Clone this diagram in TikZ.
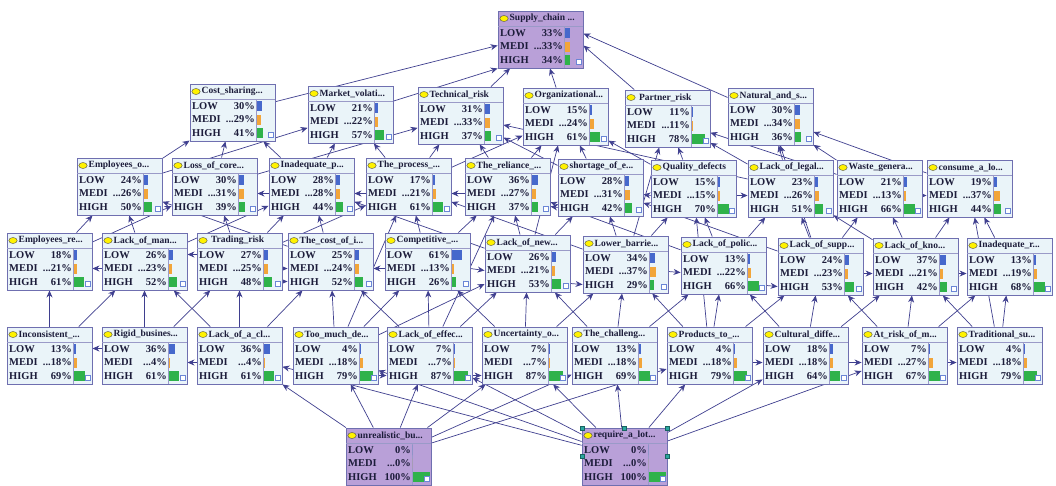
\documentclass[tikz,border=0pt]{standalone}
\usepackage{fontspec}
\setmainfont{Liberation Serif}
\usepackage{xcolor}
\usepackage{tikz}
\usetikzlibrary{arrows.meta,backgrounds}
\definecolor{bnFill}{HTML}{EAF4F9}
\definecolor{bnPurple}{HTML}{B9A0D8}
\definecolor{bnBorder}{HTML}{6F6FB0}
\definecolor{bnEdge}{HTML}{3F3F8F}
\definecolor{bnBlue}{HTML}{4668CC}
\definecolor{bnOrange}{HTML}{F2A53A}
\definecolor{bnGreen}{HTML}{2FB24A}
\definecolor{bnText}{HTML}{1C1C3A}
\definecolor{bnHandle}{HTML}{2AA7A0}
% name, x, y, title, low, medi, high, fill
\newcommand{\bnode}[8]{%
  \begin{scope}[shift={(#2,#3)}]
    \node[bbox, fill=#8] (#1) at (42.5,28.5) {};
    \draw[bsep] (0,15) -- (85,15);
    \draw[bsep] (66,15) -- (66,57);
    \filldraw[fill=yellow, draw=black!70, line width=0.4pt]
      (6,7.5) ellipse [x radius=4.2pt, y radius=3pt];
    \node[btitle] (#1-t) at (11.5,7.5) {#4};
    \node[blabel] (#1-l) at (2,22)   {LOW};
    \node[blabel] (#1-m) at (2,35.5) {MEDI};
    \node[blabel] (#1-h) at (2,49)   {HIGH};
    \node[bpct] (#1-pl) at (65,22)   {#5\%};
    \node[bpct] (#1-pm) at (65,35.5) {...#6\%};
    \node[bpct] (#1-ph) at (65,49)   {#7\%};
    \fill[bnBlue]   (66.5,17)   rectangle ({66.5+0.17*#5},27);
    \fill[bnOrange] (66.5,30.5) rectangle ({66.5+0.17*#6},40.5);
    \fill[bnGreen]  (66.5,44)   rectangle ({66.5+0.17*#7},54);
    \draw[draw=bnBlue!80, fill=white, line width=0.5pt] (78.5,48.5) rectangle (83.5,53.5);
  \end{scope}}

\begin{document}
\begin{tikzpicture}[x=1pt, y=-1pt,
    bbox/.style={draw=bnBorder, line width=0.9pt, rectangle, inner sep=0pt,
                 minimum width=85pt, minimum height=57pt},
    bsep/.style={draw=bnBorder!70, line width=0.5pt},
    btitle/.style={anchor=west, inner sep=0pt, text=bnText,
                   font=\fontsize{9.5}{10}\selectfont\bfseries},
    blabel/.style={anchor=west, inner sep=0pt, text=bnText,
                   font=\fontsize{10.5}{11}\selectfont\bfseries},
    bpct/.style={anchor=east, inner sep=0pt, text=bnText,
                 font=\fontsize{10.5}{11}\selectfont\bfseries},
    link/.style={draw=bnEdge, line width=0.7pt, -{Stealth[length=7pt,width=6pt]}},
  ]

  \begin{pgfonlayer}{background}
    \fill[white] (0,0) rectangle (1056,485);
  \end{pgfonlayer}
  \useasboundingbox (0,0) rectangle (1056,485);

  % --- top node ---
  \bnode{sc}{498}{11}{Supply\_chain ...}{33}{33}{34}{bnPurple}

  % --- row 1 ---
  \bnode{cost}{190}{84}{Cost\_sharing...}{30}{29}{41}{bnFill}
  \bnode{market}{308}{86}{Market\_volati...}{21}{22}{57}{bnFill}
  \bnode{tech}{418}{87}{Technical\_risk}{31}{33}{37}{bnFill}
  \bnode{org}{523}{88}{Organizational...}{15}{24}{61}{bnFill}
  \bnode{partner}{625}{90}{\ Partner\_risk}{11}{11}{78}{bnFill}
  \bnode{natural}{728}{88}{Natural\_and\_s...}{30}{34}{36}{bnFill}

  % --- row 2 ---
  \bnode{empO}{77}{158}{Employees\_o...}{24}{26}{50}{bnFill}
  \bnode{lossCore}{172}{158}{Loss\_of\_core...}{30}{31}{39}{bnFill}
  \bnode{inadP}{269}{158}{Inadequate\_p...}{28}{28}{44}{bnFill}
  \bnode{process}{366}{158}{The\_process\_...}{17}{21}{61}{bnFill}
  \bnode{reliance}{465}{158}{The\_reliance\_...}{36}{27}{37}{bnFill}
  \bnode{shortage}{558}{159}{shortage\_of\_e...}{28}{31}{42}{bnFill}
  \bnode{quality}{651}{160}{Quality\_defects}{15}{15}{70}{bnFill}
  \bnode{legal}{748}{160}{Lack\_of\_legal...}{23}{26}{51}{bnFill}
  \bnode{waste}{837}{160}{Waste\_genera...}{21}{13}{66}{bnFill}
  \bnode{consume}{927}{160}{consume\_a\_lo...}{19}{37}{44}{bnFill}

  % --- row 3 ---
  \bnode{empR}{7}{233}{Employees\_re...}{18}{21}{61}{bnFill}
  \bnode{lackMan}{102}{233}{Lack\_of\_man...}{26}{23}{52}{bnFill}
  \bnode{trading}{197}{233}{\ Trading\_risk}{27}{25}{48}{bnFill}
  \bnode{costI}{288}{233}{The\_cost\_of\_i...}{25}{24}{52}{bnFill}
  \bnode{compet}{385}{233}{Competitive\_...}{61}{13}{26}{bnFill}
  \bnode{lackNew}{485}{235}{Lack\_of\_new...}{26}{21}{53}{bnFill}
  \bnode{lowerB}{583}{236}{Lower\_barrie...}{34}{37}{29}{bnFill}
  \bnode{lackPol}{681}{237}{Lack\_of\_polic...}{13}{22}{66}{bnFill}
  \bnode{lackSupp}{778}{238}{Lack\_of\_supp...}{24}{23}{53}{bnFill}
  \bnode{lackKno}{873}{238}{Lack\_of\_kno...}{37}{21}{42}{bnFill}
  \bnode{inadR}{967}{238}{Inadequate\_r...}{13}{19}{68}{bnFill}

  % --- row 4 ---
  \bnode{incons}{7}{327}{Inconsistent\_...}{13}{18}{69}{bnFill}
  \bnode{rigid}{102}{327}{Rigid\_busines...}{36}{4}{61}{bnFill}
  \bnode{lackCl}{197}{327}{Lack\_of\_a\_cl...}{36}{4}{61}{bnFill}
  \bnode{tooMuch}{293}{327}{Too\_much\_de...}{4}{18}{79}{bnFill}
  \bnode{lackEff}{387}{327}{Lack\_of\_effec...}{7}{7}{87}{bnFill}
  \bnode{uncert}{482}{327}{Uncertainty\_o...}{7}{7}{87}{bnFill}
  \bnode{challeng}{572}{327}{The\_challeng...}{13}{18}{69}{bnFill}
  \bnode{products}{667}{327}{Products\_to\_...}{4}{18}{79}{bnFill}
  \bnode{cultural}{763}{327}{Cultural\_diffe...}{18}{18}{64}{bnFill}
  \bnode{atRisk}{862}{327}{At\_risk\_of\_m...}{7}{27}{67}{bnFill}
  \bnode{tradSu}{957}{327}{Traditional\_su...}{4}{18}{79}{bnFill}

  % --- bottom nodes ---
  \bnode{unreal}{346}{428}{unrealistic\_bu...}{0}{0}{100}{bnPurple}
  \bnode{require}{582}{428}{require\_a\_lot...}{0}{0}{100}{bnPurple}

  % selection handles
  \foreach \hx/\hy in {582/428, 624.5/428, 667/428, 582/456.5, 667/456.5}
    \filldraw[fill=bnHandle, draw=bnHandle!60!black, line width=0.3pt]
      (\hx-2,\hy-2) rectangle (\hx+2,\hy+2);

  \begin{pgfonlayer}{background}
  % --- into top node ---
  \draw[link] (cost) -- ([yshift=-6pt]sc.west);
  \draw[link] (market) -- (sc.south west);
  \draw[link] (tech) -- (sc);
  \draw[link] (org) -- (sc);
  \draw[link] (partner) -- ([yshift=-6pt]sc.east);
  \draw[link] (natural) -- ([yshift=6pt]sc.east);

  % --- row 2 to row 1 ---
  \draw[link] (empO) -- (cost);
  \draw[link] (empO) -- (market);
  \draw[link] (lossCore) -- (cost);
  \draw[link] (lossCore) -- (tech);
  \draw[link] (inadP) -- (market);
  \draw[link] (inadP) -- (cost);
  \draw[link] (process) -- (tech);
  \draw[link] (process) -- (market);
  \draw[link] (process) -- (org);
  \draw[link] (reliance) -- (tech);
  \draw[link] (reliance) -- (org);
  \draw[link] (shortage) -- (tech);
  \draw[link] (shortage) -- (org);
  \draw[link] (quality) -- (partner);
  \draw[link] (quality) -- (org);
  \draw[link] (legal) -- (partner);
  \draw[link] (legal) -- (natural);
  \draw[link] (legal) -- (tech);
  \draw[link] (waste) -- (natural);
  \draw[link] (waste) -- (partner);
  \draw[link] (consume) -- (natural);

  % --- row 2 side links ---
  \draw[link] ([yshift=-7pt]inadP.west) -- ([yshift=-7pt]lossCore.east);
  \draw[link] ([yshift=-7pt]process.west) -- ([yshift=-7pt]inadP.east);
  \draw[link] ([yshift=-7pt]reliance.west) -- ([yshift=-7pt]process.east);
  \draw[link] ([yshift=-20pt]shortage.west) -- ([yshift=-20pt]reliance.east);
  \draw[link] ([yshift=-7pt]quality.west) -- ([yshift=-7pt]shortage.east);
  \draw[link] ([yshift=-7pt]quality.east) -- ([yshift=-7pt]legal.west);
  \draw[link] ([yshift=-7pt]waste.east) -- ([yshift=-7pt]consume.west);

  % --- row 3 to row 2 ---
  \draw[link] (empR) -- (empO);
  \draw[link] (empR) -- (lossCore);
  \draw[link] (lackMan) -- (empO);
  \draw[link] (lackMan) -- (inadP);
  \draw[link] (trading) -- (lossCore);
  \draw[link] (trading) -- (process);
  \draw[link] (trading) -- (inadP);
  \draw[link] (costI) -- (inadP);
  \draw[link] (costI) -- (empO);
  \draw[link] (compet) -- (process);
  \draw[link] (compet) -- (reliance);
  \draw[link] (lackNew) -- (reliance);
  \draw[link] (lackNew) -- (shortage);
  \draw[link] (lackNew) -- (inadP);
  \draw[link] (lowerB) -- (shortage);
  \draw[link] (lowerB) -- (quality);
  \draw[link] (lowerB) -- (process);
  \draw[link] (lackPol) -- (quality);
  \draw[link] (lackPol) -- (legal);
  \draw[link] (lackPol) -- (reliance);
  \draw[link] (lackSupp) -- (legal);
  \draw[link] (lackSupp) -- (waste);
  \draw[link] (lackSupp) -- (shortage);
  \draw[link] (lackKno) -- (waste);
  \draw[link] (lackKno) -- (consume);
  \draw[link] (lackKno) -- (legal);
  \draw[link] (inadR) -- (consume);
  \draw[link] (lackNew) -- (org);
  \draw[link] (lowerB) -- (partner);
  \draw[link] (lackSupp) -- (natural);

  % --- row 3 side links ---
  \draw[link] ([yshift=-7pt]lackMan.west) -- ([yshift=-7pt]empR.east);
  \draw[link] ([yshift=7pt]trading.west) -- ([yshift=7pt]lackMan.east);
  \draw[link] ([yshift=-7pt]trading.east) -- ([yshift=-7pt]costI.west);
  \draw[link] ([yshift=-20pt]trading.east) -- ([yshift=-20pt]costI.west);
  \draw[link] ([yshift=-7pt]compet.west) -- ([yshift=-7pt]costI.east);
  \draw[link] ([yshift=-7pt]compet.east) -- ([yshift=-7pt]lackNew.west);
  \draw[link] ([yshift=-20pt]lackNew.east) -- ([yshift=-20pt]lowerB.west);
  \draw[link] ([yshift=-7pt]lowerB.east) -- ([yshift=-7pt]lackPol.west);
  \draw[link] ([yshift=-20pt]lackPol.east) -- ([yshift=-20pt]lackSupp.west);
  \draw[link] ([yshift=-7pt]lackSupp.east) -- ([yshift=-7pt]lackKno.west);
  \draw[link] ([yshift=-7pt]lackKno.east) -- ([yshift=-7pt]inadR.west);

  % --- row 4 to row 3 ---
  \draw[link] (incons) -- (empR);
  \draw[link] (incons) -- (lackMan);
  \draw[link] (rigid) -- (lackMan);
  \draw[link] (rigid) -- (trading);
  \draw[link] (lackCl) -- (trading);
  \draw[link] (lackCl) -- (costI);
  \draw[link] (lackCl) -- (lackMan);
  \draw[link] (tooMuch) -- (costI);
  \draw[link] (tooMuch) -- (compet);
  \draw[link] (tooMuch) -- (lackNew);
  \draw[link] (lackEff) -- (compet);
  \draw[link] (lackEff) -- (lackNew);
  \draw[link] (lackEff) -- (costI);
  \draw[link] (uncert) -- (lackNew);
  \draw[link] (uncert) -- (lowerB);
  \draw[link] (uncert) -- (compet);
  \draw[link] (challeng) -- (lowerB);
  \draw[link] (challeng) -- (lackPol);
  \draw[link] (challeng) -- (lackNew);
  \draw[link] (products) -- (lackPol);
  \draw[link] (products) -- (lackSupp);
  \draw[link] (products) -- (lowerB);
  \draw[link] (cultural) -- (lackSupp);
  \draw[link] (cultural) -- (lackKno);
  \draw[link] (cultural) -- (lackPol);
  \draw[link] (atRisk) -- (lackKno);
  \draw[link] (atRisk) -- (inadR);
  \draw[link] (atRisk) -- (lackSupp);
  \draw[link] (tradSu) -- (inadR);
  \draw[link] (tradSu) -- (lackKno);
  \draw[link] (products) -- (quality);
  \draw[link] (lackEff) -- (reliance);
  \draw[link] (tooMuch) -- (process);
  \draw[link] (tradSu) -- (consume);

  % --- row 4 side links ---
  \draw[link] ([yshift=7pt]rigid.west) -- ([yshift=7pt]incons.east);
  \draw[link] ([yshift=-7pt]lackCl.west) -- ([yshift=-7pt]rigid.east);
  \draw[link] ([yshift=-20pt]tooMuch.east) -- ([yshift=-20pt]lackEff.west);
  \draw[link] ([yshift=-20pt]lackEff.east) -- ([yshift=-20pt]uncert.west);
  \draw[link] ([yshift=-7pt]products.east) -- ([yshift=-7pt]cultural.west);
  \draw[link] ([yshift=-7pt]cultural.east) -- ([yshift=-7pt]atRisk.west);
  \draw[link] ([yshift=-7pt]atRisk.east) -- ([yshift=-7pt]tradSu.west);

  % --- bottom nodes to row 4 ---
  \draw[link] (unreal) -- (lackCl.south east);
  \draw[link] (unreal) -- (tooMuch);
  \draw[link] (unreal) -- (lackEff);
  \draw[link] (unreal) -- (uncert);
  \draw[link] (unreal) -- (challeng);
  \draw[link] (unreal) -- (products);
  \draw[link] (require) -- (lackCl);
  \draw[link] (require) -- (tooMuch);
  \draw[link] (require) -- (lackEff);
  \draw[link] (require) -- (uncert);
  \draw[link] (require) -- (challeng);
  \draw[link] (require) -- (products);
  \draw[link] (require) -- (cultural);
  \draw[link] (require) -- (atRisk);
  \end{pgfonlayer}

\end{tikzpicture}
\end{document}
